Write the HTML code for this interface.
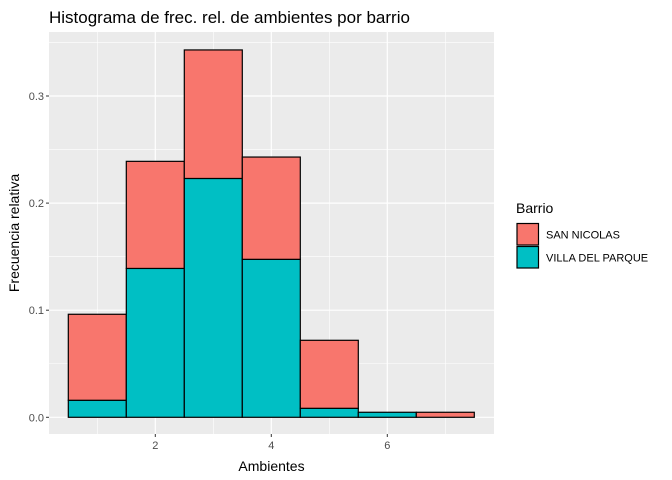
<!DOCTYPE html>
<html><head><meta charset="utf-8"><style>
body{margin:0;background:#fff;}
svg{display:block;font-family:"Liberation Sans",Arial,sans-serif;}
</style></head><body>
<svg id="chart" width="672" height="480" xmlns="http://www.w3.org/2000/svg"></svg>
<script>
const bins=[1,2,3,4,5,6,7];
const sanNicolas=[0.0803,0.100,0.120,0.0955,0.0635,0,0.0047];
const villaDelParque=[0.0159,0.139,0.223,0.1475,0.0084,0.0047,0];
const yTicks=[0,0.1,0.2,0.3];
const yTickLabels=["0.0","0.1","0.2","0.3"];
const xTicks=[2,4,6];
const xTickLabels=["2","4","6"];

const svg=document.getElementById('chart');
const NS='http://www.w3.org/2000/svg';
const L=49,R=494,T=32,B=434;
const X=v=>155.3+(v-2)*58;
const Y=v=>417.3-v*1071;
function mk(tag,attrs,parent){const e=document.createElementNS(NS,tag);for(const k in attrs)e.setAttribute(k,attrs[k]);(parent||svg).appendChild(e);return e;}

const panel=mk('rect',{x:L,y:T,width:R-L,height:B-T,fill:'#EBEBEB'});


// minor grid
for(let v=0.05;v<0.36;v+=0.1){const g=mk('line',{x1:L,x2:R,y1:Y(v),y2:Y(v),stroke:'#fff','stroke-width':0.6});

}
for(const v of [1,3,5,7]){const g=mk('line',{x1:X(v),x2:X(v),y1:T,y2:B,stroke:'#fff','stroke-width':0.6});

}
yTicks.forEach((v,i)=>{
const g=mk('line',{x1:L,x2:R,y1:Y(v),y2:Y(v),stroke:'#fff','stroke-width':1.2});


const tk=mk('line',{x1:L-3,x2:L,y1:Y(v),y2:Y(v),stroke:'#333','stroke-width':1});


const t=mk('text',{x:L-5,y:Y(v)+4,'text-anchor':'end','font-size':11,fill:'#4D4D4D'});t.textContent=yTickLabels[i];


});
xTicks.forEach((v,i)=>{
const g=mk('line',{x1:X(v),x2:X(v),y1:T,y2:B,stroke:'#fff','stroke-width':1.2});


const tk=mk('line',{x1:X(v),x2:X(v),y1:B,y2:B+3,stroke:'#333','stroke-width':1});


const t=mk('text',{x:X(v),y:B+15,'text-anchor':'middle','font-size':11,fill:'#4D4D4D'});t.textContent=xTickLabels[i];


});
bins.forEach((b,i)=>{
const x0=X(b-0.5),w=X(b+0.5)-x0;
const vp=villaDelParque[i],sn=sanNicolas[i];
if(vp>0){const r=mk('rect',{x:x0,y:Y(vp),width:w,height:Y(0)-Y(vp),fill:'#00BFC4',stroke:'#000','stroke-width':1.2});

}
if(sn>0){const r=mk('rect',{x:x0,y:Y(vp+sn),width:w,height:Y(vp)-Y(vp+sn),fill:'#F8766D',stroke:'#000','stroke-width':1.2});

}
});
</script>
<script>
(function(){
const svg=document.getElementById('chart');const NS='http://www.w3.org/2000/svg';
function mk(tag,attrs){const e=document.createElementNS(NS,tag);for(const k in attrs)e.setAttribute(k,attrs[k]);svg.appendChild(e);return e;}
let t=mk('text',{x:49,y:23,'font-size':17,fill:'#000'});t.textContent='Histograma de frec. rel. de ambientes por barrio';


t=mk('text',{x:271.5,y:471,'text-anchor':'middle','font-size':14,fill:'#000'});t.textContent='Ambientes';


t=mk('text',{x:0,y:0,'text-anchor':'middle','font-size':14,fill:'#000',transform:'translate(19,233) rotate(-90)'});t.textContent='Frecuencia relativa';


t=mk('text',{x:516,y:213,'font-size':14,fill:'#000'});t.textContent='Barrio';


let r=mk('rect',{x:517,y:223.5,width:21.5,height:21.5,fill:'#F8766D',stroke:'#000','stroke-width':1.2});


r=mk('rect',{x:517,y:246.5,width:21.5,height:21.5,fill:'#00BFC4',stroke:'#000','stroke-width':1.2});


t=mk('text',{x:546,y:238.5,'font-size':11,fill:'#000'});t.textContent='SAN NICOLAS';


t=mk('text',{x:546,y:261.5,'font-size':11,fill:'#000'});t.textContent='VILLA DEL PARQUE';


})();
</script>
</body></html>
